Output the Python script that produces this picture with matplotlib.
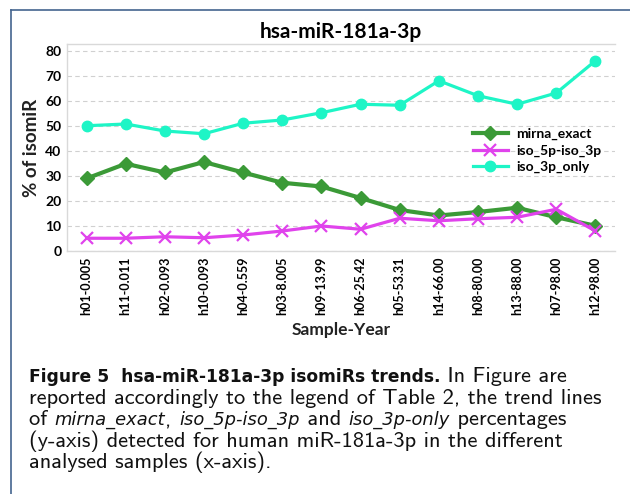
import numpy as np
import matplotlib
matplotlib.use("Agg")
import matplotlib.pyplot as plt
from matplotlib.lines import Line2D

# Data
samples = ["h01-0.005", "h11-0.011", "h02-0.093", "h10-0.093", "h04-0.559",
           "h03-8.005", "h09-13.99", "h06-25.42", "h05-53.31", "h14-66.00",
           "h08-80.00", "h13-88.00", "h07-98.00", "h12-98.00"]
mirna_exact = [29.0, 34.9, 31.4, 35.6, 31.4, 27.3, 25.8, 21.2, 16.4, 14.2, 15.6, 17.3, 13.5, 10.1]
iso_5p_iso_3p = [5.1, 5.1, 5.7, 5.3, 6.4, 8.0, 10.0, 8.7, 13.1, 12.1, 12.9, 13.5, 16.7, 8.0]
iso_3p_only = [50.1, 50.8, 48.0, 46.9, 51.1, 52.4, 55.3, 58.7, 58.3, 68.1, 62.1, 58.7, 63.2, 76.1]
y_ticks = [0, 10, 20, 30, 40, 50, 60, 70, 80]

chart_font = "Lato"
green = "#3b9a37"
magenta = "#e043ec"
cyan = "#1ef5c6"
light = "#d9d9d9"

W, H = 630, 494
fig = plt.figure(figsize=(W / 100, H / 100), dpi=100)

# blue page frame (top and left)
fig.add_artist(Line2D([11 / W, 1], [1 - 10 / H, 1 - 10 / H], color="#44658f", lw=1.2))
fig.add_artist(Line2D([11 / W, 11 / W], [0, 1 - 10 / H], color="#44658f", lw=1.2))

ax = fig.add_axes([67 / W, 1 - 251 / H, (615 - 67) / W, 207 / H])
x = np.arange(len(samples))

ax.plot(x, mirna_exact, color=green, lw=3.0, marker="D", ms=7, label="mirna_exact", zorder=3)
ax.plot(x, iso_5p_iso_3p, color=magenta, lw=2.3, marker="x", ms=8.5, mew=1.6, label="iso_5p-iso_3p", zorder=4)
ax.plot(x, iso_3p_only, color=cyan, lw=2.3, marker="o", ms=7.5, label="iso_3p_only", zorder=5)

ax.set_xlim(-0.5, len(samples) - 0.5)
ax.set_ylim(0, 82.8)
ax.set_yticks(y_ticks)
ax.set_yticklabels([str(v) for v in y_ticks], fontsize=10, fontweight="bold", family=chart_font)
ax.set_xticks(x)
ax.set_xticklabels(samples, rotation=90, fontsize=9, fontweight="bold", family=chart_font)
ax.tick_params(length=0, pad=4)
ax.grid(axis="y", color="#d0d0d0", lw=0.8, ls=(0, (4, 3)))
ax.set_axisbelow(True)
for s in ["top", "left", "bottom"]:
    ax.spines[s].set_color(light)
    ax.spines[s].set_linewidth(1.0)
ax.spines["right"].set_visible(False)

ax.set_xlabel("Sample-Year", fontsize=12.5, fontweight="bold", family=chart_font, color="#222222", labelpad=5)
ax.set_ylabel("% of isomiR", fontsize=13.5, fontweight="bold", family=chart_font, color="#222222", labelpad=4)
ax.set_title("hsa-miR-181a-3p", fontsize=15, fontweight="bold", family=chart_font, pad=4)

leg = ax.legend(loc="upper left", bbox_to_anchor=(473 / W, 1 - 128 / H), bbox_transform=fig.transFigure,
                frameon=False, borderpad=0, borderaxespad=0, handlelength=2.5, handletextpad=0.6,
                labelspacing=0.3, numpoints=1, prop={"family": chart_font, "weight": "bold", "size": 10})

# caption below the chart: regular text in the bundled cmss10, bold / italic pieces in DejaVu
caption = [
    [("Figure 5  hsa-miR-181a-3p isomiRs trends.", "b"), (" In Figure are", "r")],
    [("reported accordingly to the legend of Table 2, the trend lines", "r")],
    [("of ", "r"), ("mirna_exact", "i"), (", ", "r"), ("iso_5p-iso_3p", "i"), (" and ", "r"),
     ("iso_3p-only", "i"), (" percentages", "r")],
    [("(y-axis) detected for human miR-181a-3p in the different", "r")],
    [("analysed samples (x-axis).", "r")],
]
renderer = fig.canvas.get_renderer()

# size the regular font so line 2 spans like the reference
probe = fig.text(0, 0, caption[1][0][0], fontsize=13, family="cmss10")
reg_size = 13 * 573 / probe.get_window_extent(renderer).width
probe.remove()
# bold title piece spans about 410 px
probe = fig.text(0, 0, caption[0][0][0], fontsize=13, family="DejaVu Sans", fontweight="bold")
bold_size = 13 * 410 / probe.get_window_extent(renderer).width
probe.remove()
ital_size = reg_size * 0.8

styles = {
    "r": dict(family="cmss10", fontsize=reg_size),
    "b": dict(family="DejaVu Sans", fontweight="bold", fontsize=bold_size),
    "i": dict(family="DejaVu Sans", style="italic", fontsize=ital_size),
}

baselines = [382, 403.5, 425, 446.5, 468]
for pieces, yb in zip(caption, baselines):
    xp = 29
    for txt, key in pieces:
        t = fig.text(xp / W, 1 - yb / H, txt, va="baseline", ha="left", color="#111111", **styles[key])
        xp += t.get_window_extent(renderer).width

fig.savefig("out.png", dpi=100)
